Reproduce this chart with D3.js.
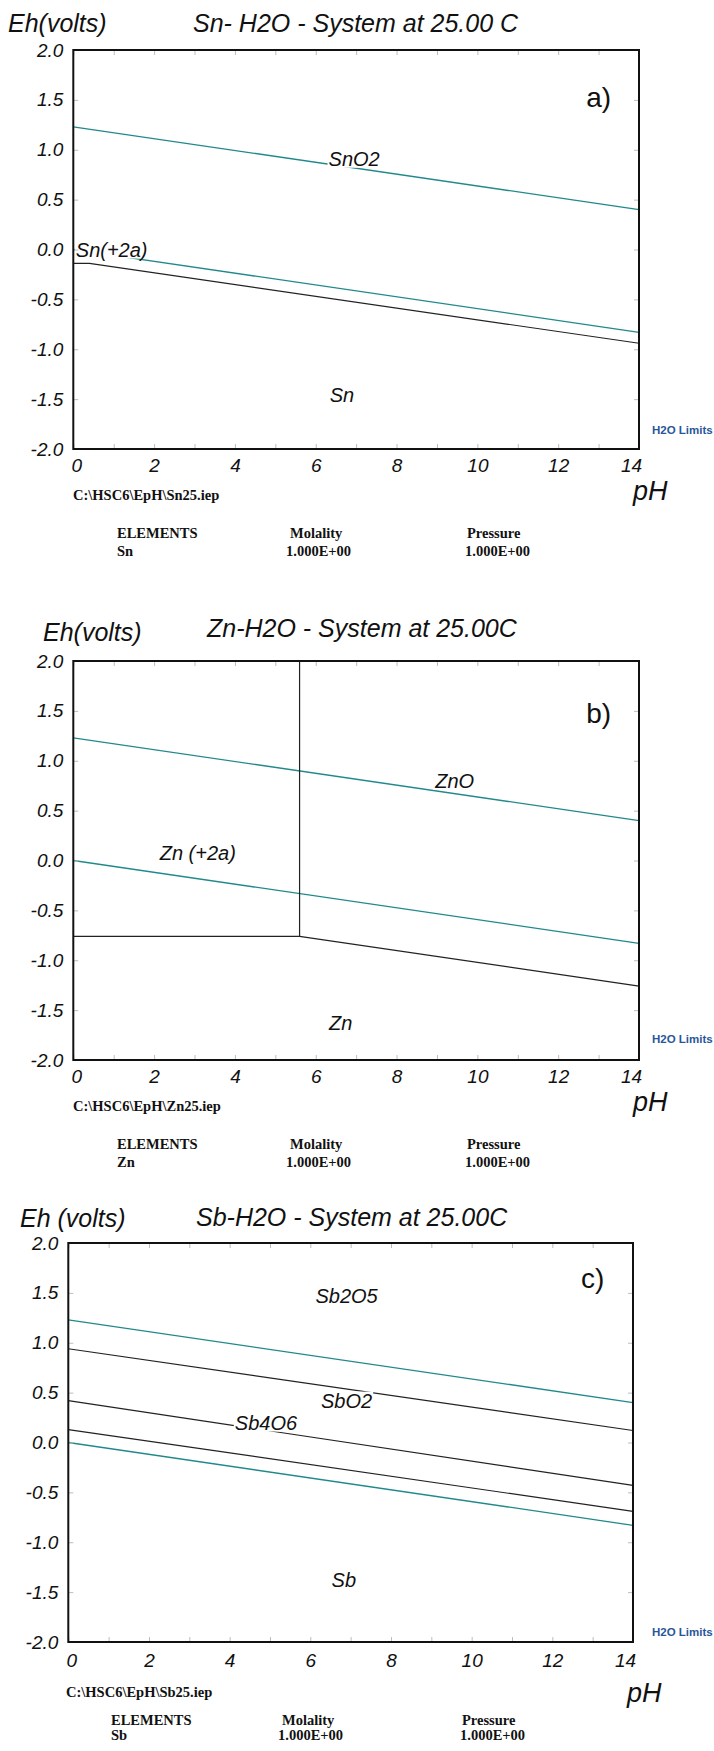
<!DOCTYPE html>
<html>
<head>
<meta charset="utf-8">
<script src="https://cdn.jsdelivr.net/npm/d3@7"></script>
<style>
  body { margin: 0; background: #fff; }
  svg { display: block; }
  text { font-family: Arial, "Liberation Sans", sans-serif; }
  text.foot { font-family: "Liberation Serif", "Times New Roman", serif; font-weight: bold; }
</style>
</head>
<body>
<div id="chart"></div>
<script>
var svgWidth = 714;
var svgHeight = 1751;

var phTicks = [0, 2, 4, 6, 8, 10, 12, 14];
var ehTicks = [2.0, 1.5, 1.0, 0.5, 0.0, -0.5, -1.0, -1.5, -2.0];

// H2O stability limits, same in every panel
var waterUpper = [[0, 1.23], [14, 0.40]];
var waterLower = [[0, 0.00], [14, -0.83]];

// species boundaries [pH, Eh]
var snLines = [
  [[0, -0.14], [0.4, -0.14], [14, -0.94]]
];
var znLines = [
  [[5.6, 2.0], [5.6, -0.76]],
  [[0, -0.76], [5.6, -0.76], [14, -1.26]]
];
var sbLines = [
  [[0, 0.94], [14, 0.12]],
  [[0, 0.42], [14, -0.43]],
  [[0, 0.13], [14, -0.69]]
];

// region labels [text, pH, Eh]
var snLabels = [["SnO2", 6.95, 0.91], ["Sn(+2a)", 0.95, 0.0], ["Sn", 6.65, -1.46]];
var znLabels = [["ZnO", 9.44, 0.80], ["Zn (+2a)", 3.08, 0.08], ["Zn", 6.62, -1.63]];
var sbLabels = [["Sb2O5", 6.9, 1.47], ["SbO2", 6.9, 0.42], ["Sb4O6", 4.9, 0.2], ["Sb", 6.83, -1.38]];

var titles = ["Sn- H2O - System at 25.00 C", "Zn-H2O - System at 25.00C", "Sb-H2O - System at 25.00C"];
var ehTitles = ["Eh(volts)", "Eh(volts)", "Eh (volts)"];
var files = ["C:\\HSC6\\EpH\\Sn25.iep", "C:\\HSC6\\EpH\\Zn25.iep", "C:\\HSC6\\EpH\\Sb25.iep"];
var elements = ["Sn", "Zn", "Sb"];
var tags = [["a)", 13.0, 1.53], ["b)", 13.0, 1.48], ["c)", 13.0, 1.65]];
var molality = "1.000E+00";
var pressure = "1.000E+00";

var teal = "#21898c";

// layout of each panel (pixels)
var panels = [
  {left: 73.3, right: 639, top: 50, bottom: 449, titleX: 193, titleY: 32, ehX: 8, ehY: 32,
   fileX: 73, fileDy: 51, elemX: 117, molX: 290, presX: 467, headDy: 89, valDy: 107, pHDy: 51, tickDy: 16, limDy: -19,
   lines: snLines, labels: snLabels},
  {left: 73.3, right: 639, top: 661, bottom: 1060, titleX: 207, titleY: 637, ehX: 43, ehY: 641,
   fileX: 73, fileDy: 51, elemX: 117, molX: 290, presX: 467, headDy: 89, valDy: 107, pHDy: 51, tickDy: 16, limDy: -21,
   lines: znLines, labels: znLabels},
  {left: 68.3, right: 633, top: 1243, bottom: 1642, titleX: 196, titleY: 1226, ehX: 20, ehY: 1227,
   fileX: 66, fileDy: 55, elemX: 111, molX: 282, presX: 462, headDy: 83, valDy: 98, pHDy: 60, tickDy: 18, limDy: -10,
   lines: sbLines, labels: sbLabels}
];

var svg = d3.select("#chart")
  .append("svg")
  .attr("width", svgWidth)
  .attr("height", svgHeight);

function drawPanel(p, i) {
  var x = d3.scaleLinear().domain([0, 14]).range([p.left, p.right]);
  var y = d3.scaleLinear().domain([-2, 2]).range([p.bottom, p.top]);
  var g = svg.append("g");

  var line = d3.line()
    .x(d => x(d[0]))
    .y(d => y(d[1]));

  // water limits
  g.selectAll(".water")
    .data([waterUpper, waterLower])
    .enter().append("path")
    .attr("d", line)
    .attr("fill", "none")
    .attr("stroke", teal)
    .attr("stroke-width", 1.3);

  // boundaries
  g.selectAll(".bound")
    .data(p.lines)
    .enter().append("path")
    .attr("d", line)
    .attr("fill", "none")
    .attr("stroke", "#222")
    .attr("stroke-width", 1.2);

  // labels with white box behind (hides the lines like the original)
  p.labels.forEach(function(l) {
    var t = g.append("text")
      .attr("x", x(l[1]))
      .attr("y", y(l[2]))
      .attr("dy", "0.35em")
      .attr("text-anchor", "middle")
      .attr("font-style", "italic")
      .attr("font-size", 20)
      .attr("fill", "#111")
      .text(l[0]);
    var b = t.node().getBBox();
    g.insert("rect", function() { return t.node(); })
      .attr("x", b.x - 1).attr("y", b.y + 2)
      .attr("width", b.width + 2).attr("height", b.height - 4)
      .attr("fill", "#fff");
  });

  g.append("text")
    .attr("x", x(tags[i][1]))
    .attr("y", y(tags[i][2]))
    .attr("dy", "0.35em")
    .attr("text-anchor", "middle")
    .attr("font-size", 28)
    .attr("fill", "#111")
    .text(tags[i][0]);

  // inner ticks on all four sides
  var minorPh = d3.range(0, 15);
  var minorEh = d3.range(-2, 2.01, 0.5);
  var tickAxes = [
    [d3.axisBottom(x).tickValues(minorPh), p.bottom, 0],
    [d3.axisTop(x).tickValues(minorPh), p.top, 0],
    [d3.axisLeft(y).tickValues(minorEh), 0, p.left],
    [d3.axisRight(y).tickValues(minorEh), 0, p.right]
  ];
  tickAxes.forEach(function(a) {
    var ax = g.append("g")
      .attr("transform", `translate(${a[2]}, ${a[1]})`)
      .call(a[0].tickSize(-5).tickFormat(""));
    ax.select(".domain").remove();
    ax.selectAll("line").attr("stroke", "#bdbdbd");
  });

  g.append("rect")
    .attr("x", p.left).attr("y", p.top)
    .attr("width", p.right - p.left).attr("height", p.bottom - p.top)
    .attr("fill", "none")
    .attr("stroke", "#111")
    .attr("stroke-width", 2);

  // tick labels
  var xAxis = g.append("g")
    .attr("transform", `translate(0, ${p.bottom + p.tickDy})`)
    .call(d3.axisBottom(x).tickValues(phTicks).tickSize(0).tickPadding(0).tickFormat(d => d));
  xAxis.select(".domain").remove();
  xAxis.selectAll("text")
    .attr("y", 0).attr("dy", "0.35em")
    .attr("font-style", "italic")
    .attr("font-size", 19)
    .attr("fill", "#111")
    .attr("dx", d => d == 0 ? 3 : (d == 14 ? -8 : 0));

  var yAxis = g.append("g")
    .attr("transform", `translate(${p.left - 10}, 0)`)
    .call(d3.axisLeft(y).tickValues(ehTicks).tickSize(0).tickPadding(0).tickFormat(d => d.toFixed(1)));
  yAxis.select(".domain").remove();
  yAxis.selectAll("text")
    .attr("font-style", "italic")
    .attr("font-size", 19)
    .attr("fill", "#111");

  // titles
  g.append("text")
    .attr("x", p.titleX).attr("y", p.titleY)
    .attr("font-style", "italic").attr("font-size", 25).attr("fill", "#111")
    .text(titles[i]);
  g.append("text")
    .attr("x", p.ehX).attr("y", p.ehY)
    .attr("font-style", "italic").attr("font-size", 25).attr("fill", "#111")
    .text(ehTitles[i]);
  g.append("text")
    .attr("x", p.right - 6).attr("y", p.bottom + p.pHDy)
    .attr("font-style", "italic").attr("font-size", 27).attr("fill", "#111")
    .text("pH");

  g.append("text")
    .attr("x", 652).attr("y", p.bottom + p.limDy)
    .attr("dy", "0.35em")
    .attr("font-weight", "bold").attr("font-size", 11.5).attr("fill", "#2a5699")
    .text("H2O Limits");

  // footer, bold serif
  var foot = [
    [files[i], p.fileX, p.fileDy],
    ["ELEMENTS", p.elemX, p.headDy],
    ["Molality", p.molX, p.headDy],
    ["Pressure", p.presX, p.headDy],
    [elements[i], p.elemX, p.valDy],
    [molality, p.molX - 4, p.valDy],
    [pressure, p.presX - 2, p.valDy]
  ];
  g.selectAll(".foot")
    .data(foot)
    .enter().append("text")
    .attr("class", "foot")
    .attr("x", d => d[1])
    .attr("y", d => p.bottom + d[2])
    .attr("font-size", 14.5)
    .attr("fill", "#111")
    .text(d => d[0]);
}

panels.forEach(drawPanel);
</script>
</body>
</html>
